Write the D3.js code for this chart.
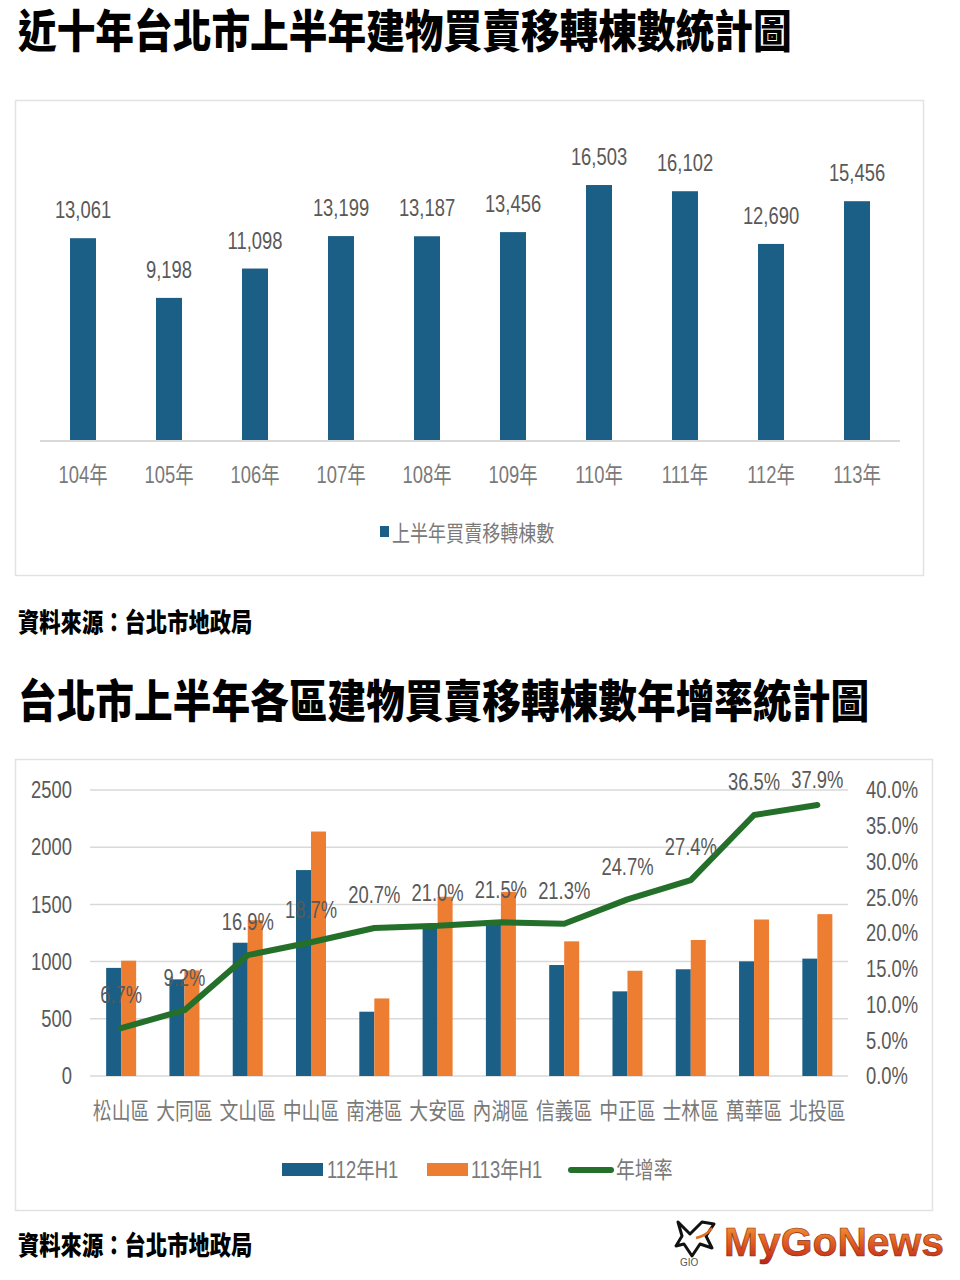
<!DOCTYPE html>
<html><head><meta charset="utf-8">
<script src="https://cdn.jsdelivr.net/npm/d3@7/dist/d3.min.js"></script>
<style>
html,body{margin:0;padding:0;background:#fff;}
svg{display:block;}
</style></head>
<body>
<svg id="c" width="960" height="1280"></svg>
<script>
// ---------- data ----------
const years = ['104年','105年','106年','107年','108年','109年','110年','111年','112年','113年'];
const halfYearCounts = [13061, 9198, 11098, 13199, 13187, 13456, 16503, 16102, 12690, 15456];
const topLegend = '上半年買賣移轉棟數';

const districts = ['松山區','大同區','文山區','中山區','南港區','大安區','內湖區','信義區','中正區','士林區','萬華區','北投區'];
const h1_112 = [945, 845, 1165, 1800, 562, 1295, 1325, 970, 740, 933, 1002, 1026];
const h1_113 = [1008, 923, 1362, 2137, 678, 1567, 1610, 1177, 920, 1189, 1368, 1415];
const growth = [6.7, 9.2, 16.9, 18.7, 20.7, 21.0, 21.5, 21.3, 24.7, 27.4, 36.5, 37.9];
const leftTicks = [0, 500, 1000, 1500, 2000, 2500];
const rightTicks = [0, 5, 10, 15, 20, 25, 30, 35, 40];
const seriesNames = ['112年H1', '113年H1', '年增率'];

const title1 = '近十年台北市上半年建物買賣移轉棟數統計圖';
const title2 = '台北市上半年各區建物買賣移轉棟數年增率統計圖';
const sourceText = '資料來源：台北市地政局';

// ---------- styles ----------
const BLUE = '#1b5f86', ORANGE = '#ed7d31', GREEN = '#24702b';
const GRID = '#d9d9d9', TXT = '#595959', TXT2 = '#7a7a7a';
const FONT = '"Liberation Sans", Arial, "Noto Sans CJK TC", sans-serif';
const CJK = '"Noto Sans CJK TC", "Noto Sans CJK SC", sans-serif';

const svg = d3.select('#c');

function T(g, x, y, s, o = {}) {
  return g.append('text')
    .attr('transform', `translate(${x},${y}) scale(${o.sx ?? 0.8},1)`)
    .attr('text-anchor', o.anchor || 'middle')
    .attr('font-family', o.family || FONT)
    .attr('font-size', o.size || 23)
    .attr('font-weight', o.weight || 'normal')
    .attr('fill', o.fill || TXT)
    .attr('dominant-baseline', o.db || 'auto')
    .text(s);
}

// ---------- titles ----------
T(svg, 18, 48, title1, {anchor: 'start', family: CJK, size: 45, weight: 900, sx: 0.86, fill: '#000'});
T(svg, 18, 632, sourceText, {anchor: 'start', family: CJK, size: 26, weight: 900, sx: 0.82, fill: '#000'});
T(svg, 18, 718, title2, {anchor: 'start', family: CJK, size: 45, weight: 900, sx: 0.86, fill: '#000'});
T(svg, 18, 1255, sourceText, {anchor: 'start', family: CJK, size: 26, weight: 900, sx: 0.82, fill: '#000'});

// ---------- chart 1 ----------
const g1 = svg.append('g');
g1.append('rect').attr('x', 15.5).attr('y', 100.5).attr('width', 908).attr('height', 475)
  .attr('fill', '#fff').attr('stroke', '#e2e2e2').attr('stroke-width', 1.5);

const x1 = d3.scaleBand().domain(years).range([40, 900]).padding(0);
const y1 = d3.scaleLinear().domain([0, 20000]).range([440, 131]);
const bw1 = 26;

g1.append('line').attr('x1', 40).attr('x2', 900).attr('y1', y1(0) + 1).attr('y2', y1(0) + 1)
  .attr('stroke', GRID).attr('stroke-width', 2);

g1.selectAll('rect.bar').data(years).join('rect').attr('class', 'bar')
  .attr('x', d => x1(d) + x1.bandwidth() / 2 - bw1 / 2)
  .attr('width', bw1)
  .attr('y', (d, i) => y1(halfYearCounts[i]))
  .attr('height', (d, i) => y1(0) - y1(halfYearCounts[i]))
  .attr('fill', BLUE);

years.forEach((d, i) => {
  const cx = x1(d) + x1.bandwidth() / 2;
  T(g1, cx, y1(halfYearCounts[i]) - 20, d3.format(',')(halfYearCounts[i]), {size: 23, fill: TXT});
  T(g1, cx, 483, d, {size: 23, fill: TXT2});
});

// legend 1
g1.append('rect').attr('x', 380).attr('y', 526).attr('width', 9).attr('height', 11).attr('fill', BLUE);
T(g1, 392, 541, topLegend, {anchor: 'start', family: CJK, size: 22, sx: 0.82, fill: TXT2});

// ---------- chart 2 ----------
const g2 = svg.append('g');
g2.append('rect').attr('x', 15.5).attr('y', 759.5).attr('width', 917).attr('height', 451)
  .attr('fill', '#fff').attr('stroke', '#e2e2e2').attr('stroke-width', 1.5);

const x2 = d3.scaleBand().domain(districts).range([89.5, 849]).padding(0);
const yL = d3.scaleLinear().domain([0, 2500]).range([1076, 790]);
const yR = d3.scaleLinear().domain([0, 40]).range([1076, 790]);
const bw2 = 15;

// gridlines
g2.selectAll('line.grid').data(leftTicks).join('line').attr('class', 'grid')
  .attr('x1', 90).attr('x2', 848)
  .attr('y1', d => yL(d)).attr('y2', d => yL(d))
  .attr('stroke', GRID).attr('stroke-width', 1.5);

// left axis labels
leftTicks.forEach(t => T(g2, 72, yL(t), String(t), {anchor: 'end', db: 'central', size: 23, fill: TXT}));
// right axis labels
rightTicks.forEach(t => T(g2, 866, yR(t), d3.format('.1f')(t) + '%', {anchor: 'start', db: 'central', size: 23, fill: TXT}));

// bars
g2.selectAll('rect.b112').data(districts).join('rect').attr('class', 'b112')
  .attr('x', d => x2(d) + x2.bandwidth() / 2 - bw2)
  .attr('width', bw2)
  .attr('y', (d, i) => yL(h1_112[i]))
  .attr('height', (d, i) => yL(0) - yL(h1_112[i]))
  .attr('fill', BLUE);
g2.selectAll('rect.b113').data(districts).join('rect').attr('class', 'b113')
  .attr('x', d => x2(d) + x2.bandwidth() / 2)
  .attr('width', bw2)
  .attr('y', (d, i) => yL(h1_113[i]))
  .attr('height', (d, i) => yL(0) - yL(h1_113[i]))
  .attr('fill', ORANGE);

// line
const line = d3.line()
  .x((d, i) => x2(districts[i]) + x2.bandwidth() / 2)
  .y(d => yR(d));
g2.append('path').datum(growth).attr('d', line)
  .attr('fill', 'none').attr('stroke', GREEN).attr('stroke-width', 6)
  .attr('stroke-linejoin', 'round').attr('stroke-linecap', 'round');

// line labels (kept inside the plot area, as the original does)
growth.forEach((v, i) => {
  const cx = x2(districts[i]) + x2.bandwidth() / 2;
  T(g2, cx, Math.max(yR(v) - 33, 780), d3.format('.1f')(v) + '%', {db: 'central', size: 23, fill: TXT});
});

// category labels
districts.forEach(d => T(g2, x2(d) + x2.bandwidth() / 2, 1119, d, {family: CJK, size: 23, sx: 0.82, fill: TXT2}));

// legend 2
const lg = g2.append('g');
lg.append('rect').attr('x', 282).attr('y', 1163).attr('width', 41).attr('height', 13).attr('fill', BLUE);
T(lg, 327, 1178, seriesNames[0], {anchor: 'start', size: 23, sx: 0.8, fill: TXT2});
lg.append('rect').attr('x', 427).attr('y', 1163).attr('width', 41).attr('height', 13).attr('fill', ORANGE);
T(lg, 471, 1178, seriesNames[1], {anchor: 'start', size: 23, sx: 0.8, fill: TXT2});
lg.append('line').attr('x1', 571).attr('x2', 611).attr('y1', 1170).attr('y2', 1170)
  .attr('stroke', GREEN).attr('stroke-width', 6).attr('stroke-linecap', 'round');
T(lg, 616, 1178, seriesNames[2], {anchor: 'start', family: CJK, size: 23, sx: 0.82, fill: TXT2});

// ---------- logo ----------
const defs = svg.append('defs');
const grad = defs.append('linearGradient').attr('id', 'lg').attr('x1', 0).attr('x2', 0).attr('y1', 0).attr('y2', 1);
grad.append('stop').attr('offset', '0%').attr('stop-color', '#f6a43a');
grad.append('stop').attr('offset', '55%').attr('stop-color', '#e0581f');
grad.append('stop').attr('offset', '100%').attr('stop-color', '#b8241a');
const logo = svg.append('g');
logo.append('text').attr('x', 724).attr('y', 1256)
  .attr('font-family', '"Liberation Sans", Arial, sans-serif').attr('font-weight', 'bold')
  .attr('font-size', 40).attr('fill', 'url(#lg)').attr('stroke', '#8a2a10').attr('stroke-width', 0.6)
  .attr('textLength', 220).attr('lengthAdjust', 'spacingAndGlyphs')
  .text('MyGoNews');
// icon
logo.append('path').attr('d', 'M678,1222 L690,1234 L702,1222 L714,1224 L706,1236 L712,1248 L700,1244 L692,1256 L684,1244 L676,1246 L682,1236 Z')
  .attr('fill', 'none').attr('stroke', '#111').attr('stroke-width', 3).attr('stroke-linejoin', 'round');
logo.append('path').attr('d', 'M696,1238 Q706,1236 712,1228').attr('fill', 'none').attr('stroke', '#e07020').attr('stroke-width', 2.5);
logo.append('text').attr('x', 680).attr('y', 1266).attr('font-family', FONT).attr('font-size', 10).attr('fill', '#555').text('GIO');
</script>
</body></html>
